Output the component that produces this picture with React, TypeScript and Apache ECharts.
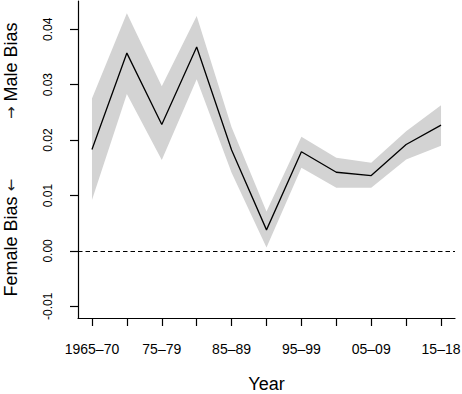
import React, { useEffect, useRef } from "react";
import * as echarts from "echarts";

const categories = ["1965–70", "70–74", "75–79", "80–84", "85–89", "90–94", "95–99", "00–04", "05–09", "10–14", "15–18"];
const meanBias = [0.0183, 0.0357, 0.0228, 0.0368, 0.0182, 0.0038, 0.0179, 0.0142, 0.0136, 0.0192, 0.0227];
const upperBand = [0.0275, 0.0429, 0.0297, 0.0424, 0.0223, 0.0071, 0.0206, 0.0168, 0.0159, 0.0216, 0.0263];
const lowerBand = [0.0092, 0.0283, 0.0164, 0.031, 0.0141, 0.0006, 0.015, 0.0114, 0.0114, 0.0165, 0.019];
const yTicks = [-0.01, 0, 0.01, 0.02, 0.03, 0.04];
const xLabelIdx = [0, 2, 4, 6, 8, 10];

const FONT = "'Liberation Sans', Arial, Helvetica, sans-serif";

export default function App() {
  const ref = useRef<HTMLDivElement>(null);
  useEffect(() => {
    if (!ref.current) return;
    const chart = echarts.init(ref.current, null, { renderer: "svg" });
    const idx = categories.map((_, i) => i);
    chart.setOption({
      animation: false,
      backgroundColor: "#ffffff",
      grid: { left: 78, right: 7, top: 1, bottom: 76, containLabel: false, outerBoundsMode: "none" },
      xAxis: {
        type: "value",
        min: -0.4,
        max: 10.4,
        name: "Year",
        nameLocation: "middle",
        nameGap: 57,
        nameTextStyle: { fontFamily: FONT, fontSize: 18, color: "#000" },
        axisLine: { show: true, onZero: false, lineStyle: { color: "#000", width: 1.2 } },
        axisTick: { show: true, length: 8, customValues: idx, lineStyle: { color: "#000", width: 1.2 } },
        axisLabel: {
          customValues: xLabelIdx,
          formatter: (v: number) => categories[Math.round(v)],
          margin: 24,
          fontFamily: FONT,
          fontSize: 14,
          color: "#000",
        },
        splitLine: { show: false },
      },
      yAxis: {
        type: "value",
        min: -0.0121,
        max: 0.0451,
        name: "Female Bias {a|←}            {a|→} Male Bias",
        nameLocation: "middle",
        nameGap: 58,
        nameRotate: 90,
        nameTextStyle: {
          fontFamily: FONT,
          fontSize: 18,
          color: "#000",
          rich: { a: { fontFamily: "'DejaVu Sans', sans-serif", fontSize: 15, color: "#222" } },
        },
        axisLine: { show: true, onZero: false, lineStyle: { color: "#000", width: 1.2 } },
        axisTick: { show: true, length: 8, customValues: yTicks, lineStyle: { color: "#000", width: 1.2 } },
        axisLabel: {
          customValues: yTicks,
          rotate: 90,
          margin: 24,
          formatter: (v: number) => (v < 0 ? "-" + Math.abs(v).toFixed(2) : v.toFixed(2)),
          fontFamily: FONT,
          fontSize: 12,
          color: "#000",
        },
        splitLine: { show: false },
      },
      series: [
        {
          type: "custom",
          name: "band",
          silent: true,
          clip: false,
          data: idx.map((i) => [i, lowerBand[i], upperBand[i]]),
          encode: { x: 0, y: [1, 2] },
          renderItem: (params: any, api: any) => {
            if (params.dataIndex !== 0) return null;
            const top = idx.map((i) => api.coord([i, upperBand[i]]));
            const bottom = idx.map((i) => api.coord([i, lowerBand[i]])).reverse();
            return {
              type: "polygon",
              shape: { points: top.concat(bottom) },
              style: { fill: "#d3d3d3", stroke: "none" },
            };
          },
        },
        {
          type: "line",
          name: "mean",
          data: idx.map((i) => [i, meanBias[i]]),
          symbol: "none",
          lineStyle: { color: "#000", width: 1.3 },
          clip: false,
          markLine: {
            silent: true,
            symbol: ["none", "none"],
            label: { show: false },
            lineStyle: { color: "#000", width: 1, type: [4.5, 3] },
            data: [{ yAxis: 0 }],
          },
        },
      ],
    });
    return () => chart.dispose();
  }, []);
  return (
    <div
      ref={ref}
      style={{ position: "absolute", left: 0, top: 0, width: 462, height: 394 }}
    />
  );
}
